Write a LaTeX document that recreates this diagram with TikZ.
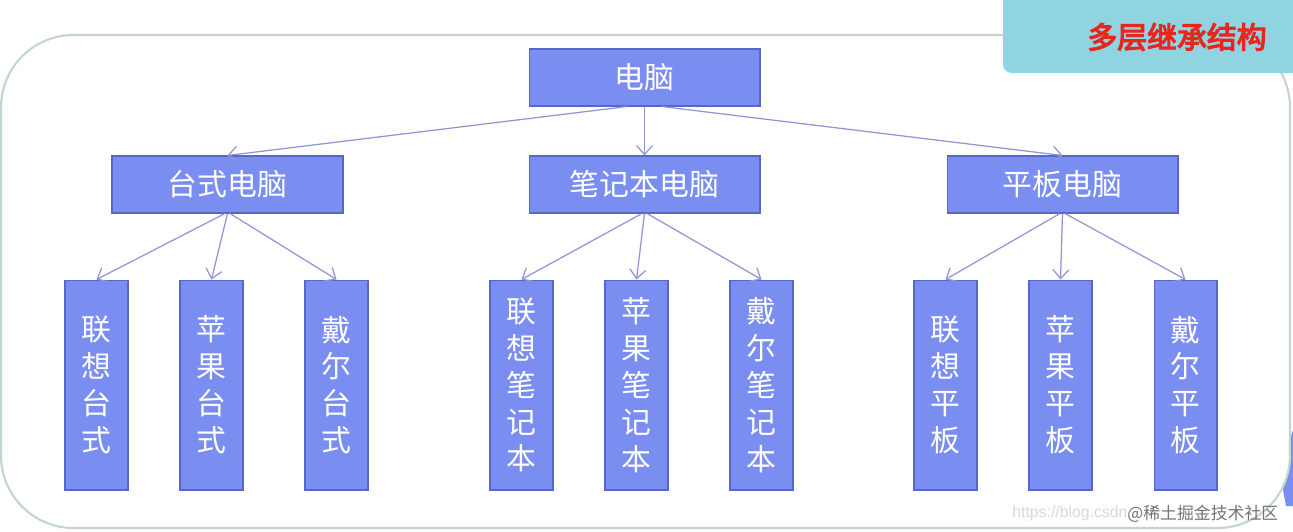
\documentclass[tikz,border=0pt]{standalone}
\usepackage{fontspec}
\setmainfont{Liberation Sans}
\newfontfamily\cjk{Noto Sans CJK SC}
\newfontfamily\cjkbold[FakeBold=4]{Noto Sans CJK SC}
\usetikzlibrary{arrows.meta}
\definecolor{boxfill}{RGB}{122,141,240}
\definecolor{boxline}{RGB}{88,102,200}
\definecolor{arrowc}{RGB}{142,150,214}
\definecolor{framec}{RGB}{196,214,200}
\definecolor{labelc}{RGB}{144,212,226}
\definecolor{titlered}{RGB}{232,38,28}
\tikzset{
  hbox/.style={draw=boxline, fill=boxfill, line width=0.6pt, minimum width=4.62cm,
    minimum height=1.14cm, inner sep=0pt, text=white, font=\cjk\fontsize{17pt}{20pt}\selectfont},
  vbox/.style={draw=boxline, fill=boxfill, line width=0.6pt, minimum width=1.26cm,
    minimum height=4.2cm, inner sep=0pt, align=center, text=white,
    font=\cjk\fontsize{17pt}{21pt}\selectfont},
  conn/.style={draw=arrowc, line width=0.7pt, -{Straight Barb[length=1.8mm,width=3.2mm]}}
}
\begin{document}
\begin{tikzpicture}[x=0.02cm,y=-0.02cm]
\useasboundingbox (0,0) rectangle (1293,531);
% blue sliver at bottom right
\fill[boxfill] (1293,430) -- (1288,445) -- (1283,490) -- (1286,506) -- (1293,506) -- cycle;
% frame
\draw[framec, fill=white, line width=1.2pt, rounded corners=1.45cm] (1,35) rectangle (1290,528);
% title label
\fill[labelc, rounded corners=0.18cm] (1003,-20) rectangle (1320,73);
\node[text=titlered, font=\cjkbold\fontsize{17pt}{20pt}\selectfont, inner sep=0pt] (title) at (1177,37) {多层继承结构};

% nodes
\node[hbox] (pc) at (644.5,77.5) {电脑};
\node[hbox] (desk) at (227.5,184.5) {台式电脑};
\node[hbox] (note) at (644.5,184.5) {笔记本电脑};
\node[hbox] (tab) at (1062.5,184.5) {平板电脑};

\node[vbox] (d1) at (96.5,385) {联\\想\\台\\式};
\node[vbox] (d2) at (211.5,385) {苹\\果\\台\\式};
\node[vbox] (d3) at (336.5,385) {戴\\尔\\台\\式};

\node[vbox] (n1) at (521.5,385) {联\\想\\笔\\记\\本};
\node[vbox] (n2) at (636.5,385) {苹\\果\\笔\\记\\本};
\node[vbox] (n3) at (761.5,385) {戴\\尔\\笔\\记\\本};

\node[vbox] (t1) at (945.5,385) {联\\想\\平\\板};
\node[vbox] (t2) at (1060.5,385) {苹\\果\\平\\板};
\node[vbox] (t3) at (1185.5,385) {戴\\尔\\平\\板};

% connectors
\draw[conn] (pc.239) -- (desk.north);
\draw[conn] (pc.south) -- (note.north);
\draw[conn] (pc.301) -- (tab.north);

\draw[conn] (desk.265) -- (d1.north);
\draw[conn] (desk.south) -- (d2.north);
\draw[conn] (desk.275) -- (d3.north);

\draw[conn] (note.265) -- (n1.north);
\draw[conn] (note.south) -- (n2.north);
\draw[conn] (note.275) -- (n3.north);

\draw[conn] (tab.265) -- (t1.north);
\draw[conn] (tab.south) -- (t2.north);
\draw[conn] (tab.275) -- (t3.north);

% watermark
\node[text=black!15, font=\fontsize{9pt}{10pt}\selectfont, anchor=west, inner sep=0pt] (wm1) at (1012,513) {https://blog.csdn};
\node[text=black!55, font=\cjk\fontsize{9.6pt}{12pt}\selectfont, anchor=west, inner sep=0pt] (wm2) at (1127,514) {@稀土掘金技术社区};
\end{tikzpicture}
\end{document}
